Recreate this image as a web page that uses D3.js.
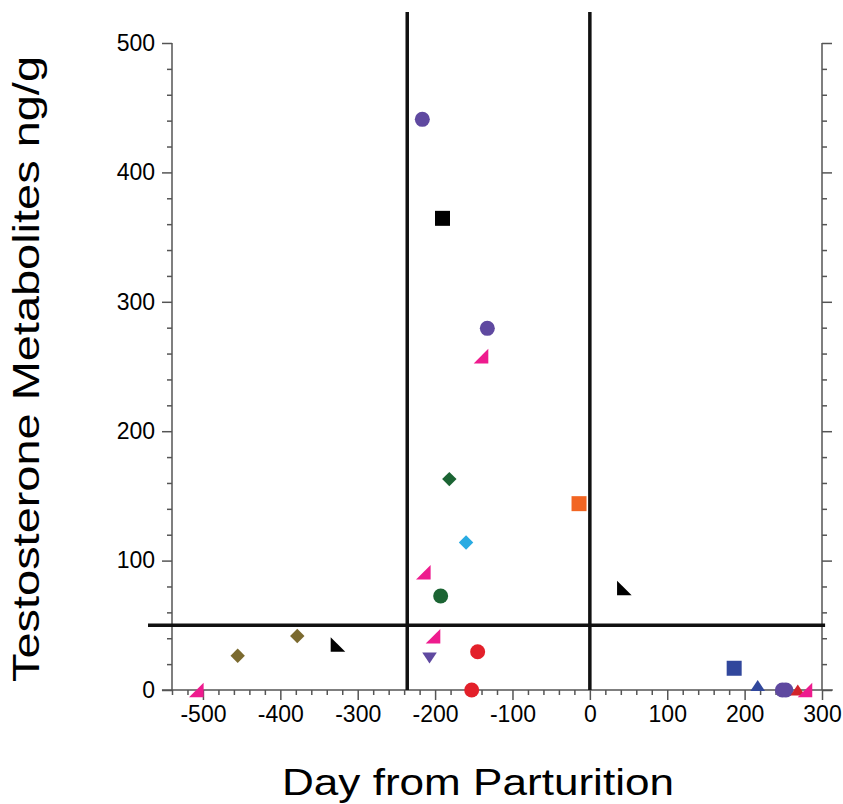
<!DOCTYPE html>
<html>
<head>
<meta charset="utf-8">
<script src="https://cdn.jsdelivr.net/npm/d3@7/dist/d3.min.js"></script>
<style>
	body { margin: 0; background: #fff; }
	svg { display: block; }
	text { font-family: "Liberation Sans", Arial, Helvetica, sans-serif; fill: #000; }
</style>
</head>
<body>
<div id="chart"></div>
<script>

//DATA: ONE ARRAY PAIR PER MARKER SERIES (DAY FROM PARTURITION, METABOLITES ng/g)
var purpleCircleDay = [-216.5, -132.5, 248.8, 253.3];
var purpleCircleValue = [441, 279.5, 0, 0];
var blackSquareDay = [-190.4];
var blackSquareValue = [364.5];
var darkGreenDiamondDay = [-181.6];
var darkGreenDiamondValue = [163];
var orangeSquareDay = [-14];
var orangeSquareValue = [144];
var cyanDiamondDay = [-160];
var cyanDiamondValue = [114];
var darkGreenCircleDay = [-192.8];
var darkGreenCircleValue = [72.6];
var blackWedgeDay = [44.6, -325.5];
var blackWedgeValue = [78.8, 35.2];
var purpleDownDay = [-207.2];
var purpleDownValue = [24.7];
var redCircleDay = [-145, -152.7];
var redCircleValue = [29.6, 0];
var oliveDiamondDay = [-378.1, -455.1];
var oliveDiamondValue = [41.7, 26.5];
var blueSquareDay = [186.5];
var blueSquareValue = [16.8];
var blueUpDay = [216.9];
var blueUpValue = [3.5];
var redUpDay = [268.7];
var redUpValue = [0];
var pinkWedgeDay = [-140.7, -215.2, -202.7, -508.6, 278];
var pinkWedgeValue = [258, 91, 41.5, 0, 0];

//REFERENCE LINES
var refDays = [-236, 0];
var refValue = 50;

//AXIS TICKS
var xMajorTicks = [-500, -400, -300, -200, -100, 0, 100, 200, 300];
var yMajorTicks = [0, 100, 200, 300, 400, 500];

//SERIES STYLE (KEPT APART FROM THE VALUES)
var series = [
	{days: purpleCircleDay, values: purpleCircleValue, shape: "circle", color: "#5f49a0"},
	{days: blackSquareDay, values: blackSquareValue, shape: "square", color: "#000000"},
	{days: darkGreenDiamondDay, values: darkGreenDiamondValue, shape: "diamond", color: "#1b6433"},
	{days: orangeSquareDay, values: orangeSquareValue, shape: "square", color: "#f26522"},
	{days: cyanDiamondDay, values: cyanDiamondValue, shape: "diamond", color: "#29abe2"},
	{days: darkGreenCircleDay, values: darkGreenCircleValue, shape: "circle", color: "#1b6433"},
	{days: blackWedgeDay, values: blackWedgeValue, shape: "wedgeLeft", color: "#000000"},
	{days: purpleDownDay, values: purpleDownValue, shape: "down", color: "#5f49a0"},
	{days: redCircleDay, values: redCircleValue, shape: "circle", color: "#e3202a"},
	{days: oliveDiamondDay, values: oliveDiamondValue, shape: "diamond", color: "#7b6a2f"},
	{days: blueSquareDay, values: blueSquareValue, shape: "square", color: "#31479c"},
	{days: blueUpDay, values: blueUpValue, shape: "up", color: "#31479c"},
	{days: redUpDay, values: redUpValue, shape: "up", color: "#d2232a"},
	{days: pinkWedgeDay, values: pinkWedgeValue, shape: "wedgeRight", color: "#ee1b8e"}
];

var WIDTH = 843;
var HEIGHT = 804;
var LEFT = 172;
var RIGHT = 822;
var TOP = 43;
var BOTTOM = 690;
var AXIS_COLOR = "#555";

var x = d3.scaleLinear().domain([-540, 300]).range([LEFT, RIGHT]);
var y = d3.scaleLinear().domain([0, 500]).range([BOTTOM, TOP]);

var svg = d3.select("#chart").append("svg")
	.attr("width", WIDTH)
	.attr("height", HEIGHT);

//MINOR TICKS EVERY 20 UNITS
var xMinor = d3.range(-540, 301, 20).filter(function(v){ return xMajorTicks.indexOf(v) < 0; });
var yMinor = d3.range(0, 501, 20).filter(function(v){ return yMajorTicks.indexOf(v) < 0; });

function styleAxis(g){
	g.select(".domain").remove();
	g.selectAll("line").attr("stroke", AXIS_COLOR).attr("stroke-width", 1.5);
	g.selectAll("text").style("font-size", "23px").attr("fill", "#000");
}

function fmt(d){ return String(d); }

//LEFT AXIS
svg.append("g").attr("transform", "translate(" + LEFT + ",0)")
	.call(d3.axisLeft(y).tickValues(yMajorTicks).tickFormat(fmt).tickSize(10).tickPadding(7))
	.call(styleAxis);
svg.append("g").attr("transform", "translate(" + LEFT + ",0)")
	.call(d3.axisLeft(y).tickValues(yMinor).tickFormat("").tickSize(5))
	.call(styleAxis);

//RIGHT AXIS (NO LABELS)
svg.append("g").attr("transform", "translate(" + RIGHT + ",0)")
	.call(d3.axisRight(y).tickValues(yMajorTicks).tickFormat("").tickSize(10))
	.call(styleAxis);
svg.append("g").attr("transform", "translate(" + RIGHT + ",0)")
	.call(d3.axisRight(y).tickValues(yMinor).tickFormat("").tickSize(5))
	.call(styleAxis);

//BOTTOM AXIS
svg.append("g").attr("transform", "translate(0," + BOTTOM + ")")
	.call(d3.axisBottom(x).tickValues(xMajorTicks).tickFormat(fmt).tickSize(10).tickPadding(6))
	.call(styleAxis);
svg.append("g").attr("transform", "translate(0," + BOTTOM + ")")
	.call(d3.axisBottom(x).tickValues(xMinor).tickFormat("").tickSize(5))
	.call(styleAxis);

//AXIS LINES
svg.append("line")
	.attr("x1", x(-553)).attr("x2", x(314))
	.attr("y1", y(0)).attr("y2", y(0))
	.attr("stroke", AXIS_COLOR).attr("stroke-width", 1.5);
[-540, 300].forEach(function(d){
	svg.append("line")
		.attr("x1", x(d)).attr("x2", x(d))
		.attr("y1", y(0)).attr("y2", y(500))
		.attr("stroke", AXIS_COLOR).attr("stroke-width", 1.5);
});

//REFERENCE LINES
refDays.forEach(function(d){
	svg.append("line")
		.attr("x1", x(d)).attr("x2", x(d))
		.attr("y1", y(0)).attr("y2", y(524))
		.attr("stroke", "#111").attr("stroke-width", 3.5);
});
svg.append("line")
	.attr("x1", x(-571)).attr("x2", x(304))
	.attr("y1", y(refValue)).attr("y2", y(refValue))
	.attr("stroke", "#111").attr("stroke-width", 3.5);

//MARKER SHAPES, CENTERED ON THEIR BOUNDING BOX
function markerPath(shape){
	var r = 7.5, d = 7.2, w = 7.3, h = 5.5;
	if (shape == "circle") return d3.symbol().type(d3.symbolCircle).size(Math.PI * r * r)();
	if (shape == "square") return "M" + (-r) + "," + (-r) + "H" + r + "V" + r + "H" + (-r) + "Z";
	if (shape == "diamond") return "M0," + (-d) + "L" + d + ",0L0," + d + "L" + (-d) + ",0Z";
	if (shape == "up") return "M0," + (-h) + "L" + w + "," + h + "L" + (-w) + "," + h + "Z";
	if (shape == "down") return "M0," + h + "L" + w + "," + (-h) + "L" + (-w) + "," + (-h) + "Z";
	if (shape == "wedgeRight") return "M" + w + "," + (-w) + "V" + w + "H" + (-w) + "Z";
	if (shape == "wedgeLeft") return "M" + (-w) + "," + (-w) + "V" + w + "H" + w + "Z";
	return "";
}

var points = svg.append("g");
series.forEach(function(s){
	points.selectAll(null)
		.data(d3.zip(s.days, s.values))
		.enter()
		.append("path")
		.attr("d", markerPath(s.shape))
		.attr("transform", function(p){ return "translate(" + x(p[0]) + "," + y(p[1]) + ")"; })
		.attr("fill", s.color);
});

//AXIS TITLES
svg.append("text")
	.attr("x", 478)
	.attr("y", 795)
	.attr("text-anchor", "middle")
	.attr("textLength", 392)
	.attr("lengthAdjust", "spacingAndGlyphs")
	.style("font-size", "37px")
	.text("Day from Parturition");

svg.append("text")
	.attr("transform", "translate(39,369) rotate(-90)")
	.attr("text-anchor", "middle")
	.attr("textLength", 626)
	.attr("lengthAdjust", "spacingAndGlyphs")
	.style("font-size", "37px")
	.text("Testosterone Metabolites ng/g");

</script>
</body>
</html>
